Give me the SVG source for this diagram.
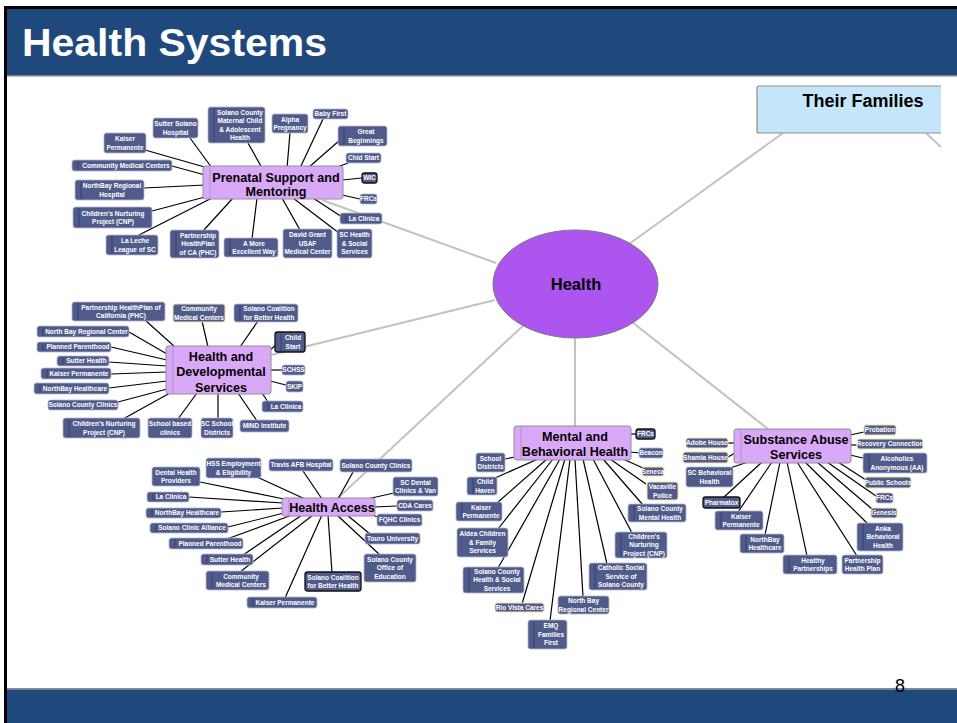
<svg xmlns="http://www.w3.org/2000/svg" width="957" height="723" viewBox="0 0 957 723">
<defs>
<style>
.lf rect{fill:#505B8B;stroke:#B4B8CE;stroke-width:0.8}
.lf.hl rect{stroke:#EFE6A0;stroke-width:1}
.lf.dk rect{stroke:#111;stroke-width:1.3}
.lf text{font-family:"Liberation Sans",Arial,sans-serif;font-weight:bold;font-size:6.5px;fill:#fff;text-anchor:middle}
.lf line{stroke:#39426E;stroke-width:1}
.mn rect{fill:#D9A8F7;stroke:#8E8E9A;stroke-width:1}
.mn line{stroke:#B58BD6;stroke-width:1}
.mn text{font-family:"Liberation Sans",Arial,sans-serif;font-weight:bold;font-size:12.6px;fill:#000;text-anchor:middle}
.cl line{stroke:#000;stroke-width:1.2}
.gl line{stroke:#C2C2C2;stroke-width:2}
</style>
<clipPath id="cp"><rect x="0" y="76" width="941" height="612"/></clipPath>
</defs>
<rect x="0" y="0" width="957" height="723" fill="#fff"/>
<!-- frame and header -->
<rect x="4" y="6" width="953" height="3" fill="#000"/>
<rect x="4" y="6" width="3" height="717" fill="#000"/>
<rect x="7" y="9" width="950" height="66" fill="#1F497D"/>
<rect x="7" y="75" width="950" height="1.5" fill="#7F7F7F"/>
<text x="22" y="56" font-family="Liberation Sans,Arial,sans-serif" font-weight="bold" font-size="39" fill="#fff" textLength="305" lengthAdjust="spacingAndGlyphs">Health Systems</text>
<rect x="7" y="688" width="950" height="1.5" fill="#8A8A8A"/>
<rect x="7" y="689.5" width="950" height="33.5" fill="#1F497D"/>
<text x="900" y="692" font-family="Liberation Sans,Arial,sans-serif" font-size="18" fill="#000" text-anchor="middle">8</text>

<g clip-path="url(#cp)">
<g id="connectors">
<g class="gl">
<line x1="322" y1="200" x2="496" y2="263"/>
<line x1="271" y1="355" x2="495" y2="300"/>
<line x1="338" y1="498" x2="526" y2="323"/>
<line x1="575" y1="338" x2="575" y2="426"/>
<line x1="632" y1="322" x2="768" y2="429"/>
<line x1="783" y1="133" x2="629" y2="244"/>
<line x1="926" y1="133" x2="941" y2="147"/>
</g>
<g class="cl">
<line x1="145" y1="150" x2="208" y2="168"/>
<line x1="190" y1="138" x2="212" y2="168"/>
<line x1="248" y1="143" x2="262" y2="168"/>
<line x1="290" y1="133" x2="287" y2="168"/>
<line x1="323" y1="119" x2="300" y2="168"/>
<line x1="340" y1="140" x2="308" y2="168"/>
<line x1="348" y1="163" x2="335" y2="168"/>
<line x1="362" y1="178" x2="342" y2="180"/>
<line x1="360" y1="199" x2="342" y2="195"/>
<line x1="342" y1="217" x2="313" y2="198"/>
<line x1="339" y1="233" x2="293" y2="198"/>
<line x1="300" y1="230" x2="282" y2="198"/>
<line x1="252" y1="239" x2="257" y2="198"/>
<line x1="203" y1="231" x2="233" y2="198"/>
<line x1="137" y1="236" x2="212" y2="198"/>
<line x1="152" y1="211" x2="205" y2="197"/>
<line x1="144" y1="188" x2="205" y2="185"/>
<line x1="172" y1="166" x2="205" y2="175"/>

<line x1="145" y1="320" x2="175" y2="347"/>
<line x1="202" y1="321" x2="208" y2="347"/>
<line x1="258" y1="321" x2="240" y2="347"/>
<line x1="276" y1="345" x2="270" y2="350"/>
<line x1="282" y1="370" x2="270" y2="370"/>
<line x1="286" y1="385" x2="270" y2="381"/>
<line x1="268" y1="402" x2="262" y2="393"/>
<line x1="257" y1="421" x2="238" y2="393"/>
<line x1="218" y1="419" x2="218" y2="393"/>
<line x1="178" y1="419" x2="197" y2="393"/>
<line x1="123" y1="419" x2="170" y2="393"/>
<line x1="118" y1="402" x2="167" y2="389"/>
<line x1="109" y1="388" x2="167" y2="381"/>
<line x1="111" y1="374" x2="167" y2="372"/>
<line x1="109" y1="362" x2="167" y2="366"/>
<line x1="111" y1="347" x2="167" y2="360"/>
<line x1="129" y1="332" x2="167" y2="354"/>

<line x1="200" y1="482" x2="284" y2="499"/>
<line x1="257" y1="477" x2="305" y2="499"/>
<line x1="303" y1="471" x2="322" y2="499"/>
<line x1="353" y1="472" x2="338" y2="499"/>
<line x1="394" y1="493" x2="367" y2="499"/>
<line x1="397" y1="506" x2="374" y2="507"/>
<line x1="378" y1="517" x2="372" y2="515"/>
<line x1="370" y1="534" x2="347" y2="515"/>
<line x1="380" y1="555" x2="337" y2="515"/>
<line x1="332" y1="573" x2="328" y2="515"/>
<line x1="285" y1="598" x2="322" y2="515"/>
<line x1="240" y1="572" x2="313" y2="515"/>
<line x1="243" y1="555" x2="302" y2="515"/>
<line x1="227" y1="539" x2="292" y2="515"/>
<line x1="228" y1="527" x2="284" y2="513"/>
<line x1="221" y1="512" x2="283" y2="508"/>
<line x1="189" y1="497" x2="283" y2="503"/>

<line x1="637" y1="434" x2="630" y2="434"/>
<line x1="640" y1="453" x2="630" y2="452"/>
<line x1="643" y1="468" x2="623" y2="459"/>
<line x1="646" y1="484" x2="610" y2="459"/>
<line x1="643" y1="505" x2="603" y2="459"/>
<line x1="632" y1="533" x2="593" y2="459"/>
<line x1="607" y1="564" x2="583" y2="459"/>
<line x1="583" y1="597" x2="575" y2="459"/>
<line x1="550" y1="621" x2="570" y2="459"/>
<line x1="522" y1="604" x2="565" y2="459"/>
<line x1="498" y1="568" x2="560" y2="459"/>
<line x1="498" y1="529" x2="553" y2="459"/>
<line x1="497" y1="503" x2="547" y2="459"/>
<line x1="495" y1="478" x2="538" y2="459"/>
<line x1="505" y1="459" x2="515" y2="457"/>

<line x1="864" y1="432" x2="850" y2="435"/>
<line x1="857" y1="445" x2="850" y2="445"/>
<line x1="863" y1="458" x2="850" y2="455"/>
<line x1="866" y1="480" x2="838" y2="462"/>
<line x1="876" y1="496" x2="827" y2="462"/>
<line x1="872" y1="509" x2="817" y2="462"/>
<line x1="868" y1="524" x2="805" y2="462"/>
<line x1="857" y1="556" x2="797" y2="462"/>
<line x1="807" y1="556" x2="787" y2="462"/>
<line x1="765" y1="535" x2="780" y2="462"/>
<line x1="738" y1="512" x2="772" y2="462"/>
<line x1="723" y1="498" x2="762" y2="462"/>
<line x1="730" y1="468" x2="748" y2="462"/>
<line x1="728" y1="457" x2="735" y2="453"/>
<line x1="728" y1="443" x2="735" y2="443"/>
</g>
</g>

<!-- center and top-right -->
<g id="n-health">
<ellipse cx="575.5" cy="284" rx="82.5" ry="54" fill="#AD55EF" stroke="#7A7A7A" stroke-width="1"/>
<text x="576" y="290" font-family="Liberation Sans,Arial,sans-serif" font-weight="bold" font-size="16.5" text-anchor="middle">Health</text>
</g>
<g id="n-families">
<rect x="757" y="86" width="200" height="47" rx="2" fill="#C5E6FA" stroke="#8E8E8E" stroke-width="1.2"/>
<text x="863" y="107" font-family="Liberation Sans,Arial,sans-serif" font-weight="bold" font-size="18" text-anchor="middle">Their Families</text>
</g>

<!-- main branch nodes -->
<g id="n-prenatal" class="mn"><rect x="203" y="166" width="140" height="33" rx="2.5"/><line x1="210" y1="167" x2="210" y2="198"/><text x="276" y="181.5">Prenatal Support and<tspan x="276" dy="14.8">Mentoring</tspan></text></g>
<g id="n-hd" class="mn"><rect x="166" y="346" width="105" height="48" rx="2.5"/><line x1="173" y1="347" x2="173" y2="393"/><text x="221" y="360.5">Health and<tspan x="221" dy="15.5">Developmental</tspan><tspan x="221" dy="15.5">Services</tspan></text></g>
<g id="n-access" class="mn"><rect x="282" y="498" width="93" height="18" rx="2.5"/><line x1="289" y1="499" x2="289" y2="515"/><text x="332" y="512">Health Access</text></g>
<g id="n-mental" class="mn"><rect x="514" y="426" width="117" height="34" rx="2.5"/><line x1="521" y1="427" x2="521" y2="459"/><text x="575" y="441">Mental and<tspan x="575" dy="15">Behavioral Health</tspan></text></g>
<g id="n-substance" class="mn"><rect x="734" y="429" width="117" height="34" rx="2.5"/><line x1="741" y1="430" x2="741" y2="462"/><text x="796" y="444">Substance Abuse<tspan x="796" dy="15">Services</tspan></text></g>

<!-- prenatal leaves -->
<g id="p-kaiser" class="lf"><rect x="104" y="133" width="42" height="20" rx="2.5"/><text x="125" y="141.1">Kaiser<tspan x="125" dy="8.4">Permanente</tspan></text></g>
<g id="p-sutter" class="lf"><rect x="153" y="118" width="45" height="20" rx="2.5"/><text x="175.5" y="126.1">Sutter Solano<tspan x="175.5" dy="8.4">Hospital</tspan></text></g>
<g id="p-mch" class="lf"><rect x="208" y="107" width="57" height="36" rx="2.5"/><line x1="214" y1="108" x2="214" y2="142"/><text x="240" y="114.7">Solano County<tspan x="240" dy="8.4">Maternal Child</tspan><tspan x="240" dy="8.4">&amp; Adolescent</tspan><tspan x="240" dy="8.4">Health</tspan></text></g>
<g id="p-alpha" class="lf"><rect x="272" y="114" width="36" height="19" rx="2.5"/><text x="290" y="121.6">Alpha<tspan x="290" dy="8.4">Pregnancy</tspan></text></g>
<g id="p-baby" class="lf"><rect x="313" y="109" width="35" height="10" rx="2.5"/><text x="330.5" y="116.3">Baby First</text></g>
<g id="p-great" class="lf"><rect x="338" y="126" width="49" height="20" rx="2.5"/><line x1="344" y1="127" x2="344" y2="145"/><text x="366" y="134.1">Great<tspan x="366" dy="8.4">Beginnings</tspan></text></g>
<g id="p-chid" class="lf"><rect x="346" y="153" width="35" height="10" rx="2.5"/><text x="363.5" y="160.3">Chid Start</text></g>
<g id="p-wic" class="lf dk"><rect x="362" y="173" width="15" height="10" rx="2.5"/><text x="369.5" y="180.3">WIC</text></g>
<g id="p-frcs" class="lf"><rect x="360" y="194" width="17" height="10" rx="2.5"/><text x="368.5" y="201.3">FRCs</text></g>
<g id="p-laclinica" class="lf"><rect x="340" y="213" width="42" height="11" rx="2.5"/><line x1="346" y1="214" x2="346" y2="223"/><text x="364" y="220.8">La Clinica</text></g>
<g id="p-schealth" class="lf"><rect x="337" y="229" width="35" height="29" rx="2.5"/><text x="354.5" y="237.4">SC Health<tspan x="354.5" dy="8.4">&amp; Social</tspan><tspan x="354.5" dy="8.4">Services</tspan></text></g>
<g id="p-david" class="lf"><rect x="283" y="229" width="49" height="29" rx="2.5"/><text x="307.5" y="237.4">David Grant<tspan x="307.5" dy="8.4">USAF</tspan><tspan x="307.5" dy="8.4">Medical Center</tspan></text></g>
<g id="p-amore" class="lf"><rect x="224" y="238" width="54" height="19" rx="2.5"/><line x1="230" y1="239" x2="230" y2="256"/><text x="254" y="245.6">A More<tspan x="254" dy="8.4">Excellent Way</tspan></text></g>
<g id="p-phc" class="lf"><rect x="170" y="230" width="49" height="28" rx="2.5"/><line x1="176" y1="231" x2="176" y2="257"/><text x="198" y="237.9">Partnership<tspan x="198" dy="8.4">HealthPlan</tspan><tspan x="198" dy="8.4">of CA (PHC)</tspan></text></g>
<g id="p-laleche" class="lf"><rect x="106" y="235" width="52" height="20" rx="2.5"/><line x1="112" y1="236" x2="112" y2="254"/><text x="135" y="243.1">La Leche<tspan x="135" dy="8.4">League of SC</tspan></text></g>
<g id="p-cnp" class="lf"><rect x="73" y="207" width="79" height="21" rx="2.5"/><line x1="79" y1="208" x2="79" y2="227"/><text x="113" y="215.6">Children's Nurturing<tspan x="113" dy="8.4">Project (CNP)</tspan></text></g>
<g id="p-northbay" class="lf"><rect x="75" y="180" width="69" height="20" rx="2.5"/><line x1="81" y1="181" x2="81" y2="199"/><text x="112" y="188.1">NorthBay Regional<tspan x="112" dy="8.4">Hospital</tspan></text></g>
<g id="p-cmc" class="lf"><rect x="72" y="160" width="100" height="11" rx="2.5"/><line x1="78" y1="161" x2="78" y2="170"/><text x="126" y="167.8">Community Medical Centers</text></g>

<!-- health and developmental leaves -->
<g id="h-phc" class="lf"><rect x="72" y="302" width="93" height="19" rx="2.5"/><line x1="78" y1="303" x2="78" y2="320"/><text x="121" y="309.6">Partnership HealthPlan of<tspan x="121" dy="8.4">California (PHC)</tspan></text></g>
<g id="h-cmc" class="lf hl"><rect x="173" y="304" width="52" height="18" rx="2.5"/><text x="199" y="311.1">Community<tspan x="199" dy="8.4">Medical Centers</tspan></text></g>
<g id="h-coalition" class="lf"><rect x="234" y="304" width="64" height="18" rx="2.5"/><line x1="240" y1="305" x2="240" y2="321"/><text x="269" y="311.1">Solano Coalition<tspan x="269" dy="8.4">for Better Health</tspan></text></g>
<g id="h-childstart" class="lf dk"><rect x="275" y="332" width="30" height="20" rx="2.5"/><line x1="281" y1="333" x2="281" y2="351"/><text x="293" y="340.1">Child<tspan x="293" dy="8.4">Start</tspan></text></g>
<g id="h-schss" class="lf"><rect x="282" y="365" width="23" height="10" rx="2.5"/><text x="293.5" y="372.3">SCHSS</text></g>
<g id="h-skip" class="lf"><rect x="286" y="381" width="17" height="11" rx="2.5"/><text x="294.5" y="388.8">SKIP</text></g>
<g id="h-laclinica" class="lf"><rect x="262" y="401" width="41" height="11" rx="2.5"/><line x1="268" y1="402" x2="268" y2="411"/><text x="286" y="408.8">La Clinica</text></g>
<g id="h-mind" class="lf"><rect x="240" y="420" width="49" height="12" rx="2.5"/><text x="264.5" y="428.3">MIND Institute</text></g>
<g id="h-scschool" class="lf"><rect x="201" y="418" width="32" height="20" rx="2.5"/><text x="217" y="426.1">SC School<tspan x="217" dy="8.4">Districts</tspan></text></g>
<g id="h-school" class="lf"><rect x="148" y="418" width="44" height="20" rx="2.5"/><text x="170" y="426.1">School based<tspan x="170" dy="8.4">clinics</tspan></text></g>
<g id="h-cnp" class="lf"><rect x="63" y="418" width="77" height="20" rx="2.5"/><line x1="69" y1="419" x2="69" y2="437"/><text x="104" y="426.1">Children's Nurturing<tspan x="104" dy="8.4">Project (CNP)</tspan></text></g>
<g id="h-scc" class="lf"><rect x="48" y="400" width="70" height="10" rx="2.5"/><text x="83" y="407.3">Solano County Clinics</text></g>
<g id="h-nbh" class="lf"><rect x="34" y="383" width="75" height="11" rx="2.5"/><line x1="40" y1="384" x2="40" y2="393"/><text x="75" y="390.8">NorthBay Healthcare</text></g>
<g id="h-kaiser" class="lf"><rect x="41" y="368" width="70" height="11" rx="2.5"/><line x1="47" y1="369" x2="47" y2="378"/><text x="79" y="375.8">Kaiser Permanente</text></g>
<g id="h-sutter" class="lf"><rect x="57" y="356" width="52" height="10" rx="2.5"/><line x1="63" y1="357" x2="63" y2="365"/><text x="86.5" y="363.3">Sutter Health</text></g>
<g id="h-planned" class="lf"><rect x="37" y="342" width="74" height="10" rx="2.5"/><line x1="43" y1="343" x2="43" y2="351"/><text x="78" y="349.3">Planned Parenthood</text></g>
<g id="h-nbrc" class="lf"><rect x="37" y="326" width="92" height="11" rx="2.5"/><line x1="43" y1="327" x2="43" y2="336"/><text x="86.5" y="333.8">North Bay Regional Center</text></g>

<!-- health access leaves -->
<g id="a-dental" class="lf"><rect x="152" y="467" width="48" height="19" rx="2.5"/><text x="176" y="474.6">Dental Health<tspan x="176" dy="8.4">Providers</tspan></text></g>
<g id="a-hss" class="lf"><rect x="206" y="458" width="55" height="20" rx="2.5"/><text x="233.5" y="466.1">HSS Employment<tspan x="233.5" dy="8.4">&amp; Eligibility</tspan></text></g>
<g id="a-travis" class="lf"><rect x="269" y="459" width="64" height="12" rx="2.5"/><text x="301" y="467.3">Travis AFB Hospital</text></g>
<g id="a-scc" class="lf"><rect x="340" y="459" width="72" height="13" rx="2.5"/><text x="376" y="467.8">Solano County Clinics</text></g>
<g id="a-scdental" class="lf"><rect x="393" y="477" width="45" height="19" rx="2.5"/><text x="415.5" y="484.6">SC Dental<tspan x="415.5" dy="8.4">Clinics &amp; Van</tspan></text></g>
<g id="a-cda" class="lf"><rect x="397" y="500" width="36" height="11" rx="2.5"/><text x="415" y="507.8">CDA Cares</text></g>
<g id="a-fqhc" class="lf"><rect x="377" y="514" width="45" height="12" rx="2.5"/><text x="399.5" y="522.3">FQHC Clinics</text></g>
<g id="a-touro" class="lf"><rect x="365" y="533" width="55" height="11" rx="2.5"/><text x="392.5" y="540.8">Touro University</text></g>
<g id="a-scoe" class="lf"><rect x="364" y="554" width="52" height="28" rx="2.5"/><text x="390" y="561.9">Solano County<tspan x="390" dy="8.4">Office of</tspan><tspan x="390" dy="8.4">Education</tspan></text></g>
<g id="a-coalition" class="lf dk"><rect x="305" y="572" width="56" height="19" rx="2.5"/><text x="333" y="579.6">Solano Coalition<tspan x="333" dy="8.4">for Better Health</tspan></text></g>
<g id="a-kaiser" class="lf"><rect x="247" y="597" width="70" height="11" rx="2.5"/><line x1="253" y1="598" x2="253" y2="607"/><text x="285" y="604.8">Kaiser Permanente</text></g>
<g id="a-cmc" class="lf"><rect x="206" y="571" width="63" height="19" rx="2.5"/><line x1="212" y1="572" x2="212" y2="589"/><text x="241" y="578.6">Community<tspan x="241" dy="8.4">Medical Centers</tspan></text></g>
<g id="a-sutter" class="lf"><rect x="201" y="554" width="52" height="11" rx="2.5"/><line x1="207" y1="555" x2="207" y2="564"/><text x="230" y="561.8">Sutter Health</text></g>
<g id="a-planned" class="lf"><rect x="169" y="538" width="74" height="11" rx="2.5"/><line x1="175" y1="539" x2="175" y2="548"/><text x="210" y="545.8">Planned Parenthood</text></g>
<g id="a-sca" class="lf"><rect x="150" y="523" width="78" height="10" rx="2.5"/><line x1="156" y1="524" x2="156" y2="532"/><text x="192" y="530.3">Solano Clinic Alliance</text></g>
<g id="a-nbh" class="lf"><rect x="146" y="508" width="75" height="10" rx="2.5"/><line x1="152" y1="509" x2="152" y2="517"/><text x="187" y="515.3">NorthBay Healthcare</text></g>
<g id="a-laclinica" class="lf"><rect x="147" y="492" width="42" height="10" rx="2.5"/><line x1="153" y1="493" x2="153" y2="501"/><text x="171" y="499.3">La Clinica</text></g>

<!-- mental health leaves -->
<g id="m-frcs" class="lf dk"><rect x="636" y="429" width="19" height="10" rx="2.5"/><text x="645.5" y="436.3">FRCs</text></g>
<g id="m-beacon" class="lf"><rect x="639" y="448" width="24" height="10" rx="2.5"/><text x="651" y="455.3">Beacon</text></g>
<g id="m-seneca" class="lf hl"><rect x="642" y="467" width="22" height="9" rx="2.5"/><text x="653" y="473.8">Seneca</text></g>
<g id="m-vacaville" class="lf hl"><rect x="647" y="482" width="31" height="18" rx="2.5"/><text x="662.5" y="489.1">Vacaville<tspan x="662.5" dy="8.4">Police</tspan></text></g>
<g id="m-scmh" class="lf"><rect x="628" y="504" width="58" height="18" rx="2.5"/><line x1="634" y1="505" x2="634" y2="521"/><text x="660" y="511.1">Solano County<tspan x="660" dy="8.4">Mental Health</tspan></text></g>
<g id="m-cnp" class="lf"><rect x="615" y="532" width="52" height="26" rx="2.5"/><line x1="621" y1="533" x2="621" y2="557"/><text x="644" y="538.9">Children's<tspan x="644" dy="8.4">Nurturing</tspan><tspan x="644" dy="8.4">Project (CNP)</tspan></text></g>
<g id="m-catholic" class="lf"><rect x="589" y="563" width="58" height="27" rx="2.5"/><line x1="595" y1="564" x2="595" y2="589"/><text x="621" y="570.4">Catholic Social<tspan x="621" dy="8.4">Service of</tspan><tspan x="621" dy="8.4">Solano County</tspan></text></g>
<g id="m-nbrc" class="lf"><rect x="558" y="596" width="51" height="18" rx="2.5"/><text x="583.5" y="603.1">North Bay<tspan x="583.5" dy="8.4">Regional Center</tspan></text></g>
<g id="m-emq" class="lf"><rect x="528" y="620" width="39" height="29" rx="2.5"/><line x1="534" y1="621" x2="534" y2="648"/><text x="551" y="628.4">EMQ<tspan x="551" dy="8.4">Families</tspan><tspan x="551" dy="8.4">First</tspan></text></g>
<g id="m-riovista" class="lf hl"><rect x="495" y="603" width="49" height="9" rx="2.5"/><text x="519.5" y="609.8">Rio Vista Cares</text></g>
<g id="m-schss" class="lf"><rect x="463" y="567" width="61" height="26" rx="2.5"/><line x1="469" y1="568" x2="469" y2="592"/><text x="497" y="573.9">Solano County<tspan x="497" dy="8.4">Health &amp; Social</tspan><tspan x="497" dy="8.4">Services</tspan></text></g>
<g id="m-aldea" class="lf"><rect x="457" y="528" width="51" height="29" rx="2.5"/><text x="482.5" y="536.4">Aldea Children<tspan x="482.5" dy="8.4">&amp; Family</tspan><tspan x="482.5" dy="8.4">Services</tspan></text></g>
<g id="m-kaiser" class="lf"><rect x="456" y="502" width="46" height="19" rx="2.5"/><line x1="462" y1="503" x2="462" y2="520"/><text x="481" y="509.6">Kaiser<tspan x="481" dy="8.4">Permanente</tspan></text></g>
<g id="m-childhaven" class="lf"><rect x="467" y="477" width="30" height="18" rx="2.5"/><line x1="473" y1="478" x2="473" y2="494"/><text x="485" y="484.1">Child<tspan x="485" dy="8.4">Haven</tspan></text></g>
<g id="m-school" class="lf"><rect x="476" y="453" width="29" height="19" rx="2.5"/><text x="490.5" y="460.6">School<tspan x="490.5" dy="8.4">Districts</tspan></text></g>

<!-- substance abuse leaves -->
<g id="s-probation" class="lf hl"><rect x="864" y="425" width="32" height="10" rx="2.5"/><text x="880" y="432.3">Probation</text></g>
<g id="s-recovery" class="lf hl"><rect x="857" y="439" width="66" height="10" rx="2.5"/><text x="890" y="446.3">Recovery Connection</text></g>
<g id="s-aa" class="lf"><rect x="863" y="453" width="64" height="20" rx="2.5"/><line x1="869" y1="454" x2="869" y2="472"/><text x="897" y="461.1">Alcoholics<tspan x="897" dy="8.4">Anonymous (AA)</tspan></text></g>
<g id="s-public" class="lf hl"><rect x="865" y="477" width="46" height="11" rx="2.5"/><text x="888" y="484.8">Public Schools</text></g>
<g id="s-frcs" class="lf"><rect x="876" y="493" width="17" height="10" rx="2.5"/><text x="884.5" y="500.3">FRCs</text></g>
<g id="s-genesis" class="lf hl"><rect x="871" y="508" width="26" height="10" rx="2.5"/><text x="884" y="515.3">Genesis</text></g>
<g id="s-anka" class="lf"><rect x="857" y="523" width="46" height="28" rx="2.5"/><line x1="863" y1="524" x2="863" y2="550"/><text x="883" y="530.9">Anka<tspan x="883" dy="8.4">Behavioral</tspan><tspan x="883" dy="8.4">Health</tspan></text></g>
<g id="s-php" class="lf"><rect x="842" y="555" width="41" height="19" rx="2.5"/><text x="862.5" y="562.6">Partnership<tspan x="862.5" dy="8.4">Health Plan</tspan></text></g>
<g id="s-healthy" class="lf"><rect x="783" y="555" width="54" height="19" rx="2.5"/><line x1="789" y1="556" x2="789" y2="573"/><text x="813" y="562.6">Healthy<tspan x="813" dy="8.4">Partnerships</tspan></text></g>
<g id="s-nbh" class="lf"><rect x="740" y="534" width="44" height="19" rx="2.5"/><line x1="746" y1="535" x2="746" y2="552"/><text x="765" y="541.6">NorthBay<tspan x="765" dy="8.4">Healthcare</tspan></text></g>
<g id="s-kaiser" class="lf"><rect x="715" y="511" width="48" height="19" rx="2.5"/><line x1="721" y1="512" x2="721" y2="529"/><text x="741" y="518.6">Kaiser<tspan x="741" dy="8.4">Permanente</tspan></text></g>
<g id="s-pharmatox" class="lf dk"><rect x="703" y="497" width="37" height="11" rx="2.5"/><text x="721.5" y="504.8">Pharmatox</text></g>
<g id="s-scbh" class="lf"><rect x="686" y="467" width="47" height="20" rx="2.5"/><text x="709.5" y="475.1">SC Behavioral<tspan x="709.5" dy="8.4">Health</tspan></text></g>
<g id="s-shamia" class="lf hl"><rect x="683" y="452" width="45" height="11" rx="2.5"/><text x="705.5" y="459.8">Shamia House</text></g>
<g id="s-adobe" class="lf hl"><rect x="686" y="438" width="42" height="10" rx="2.5"/><text x="707" y="445.3">Adobe House</text></g>
</g>
</svg>
